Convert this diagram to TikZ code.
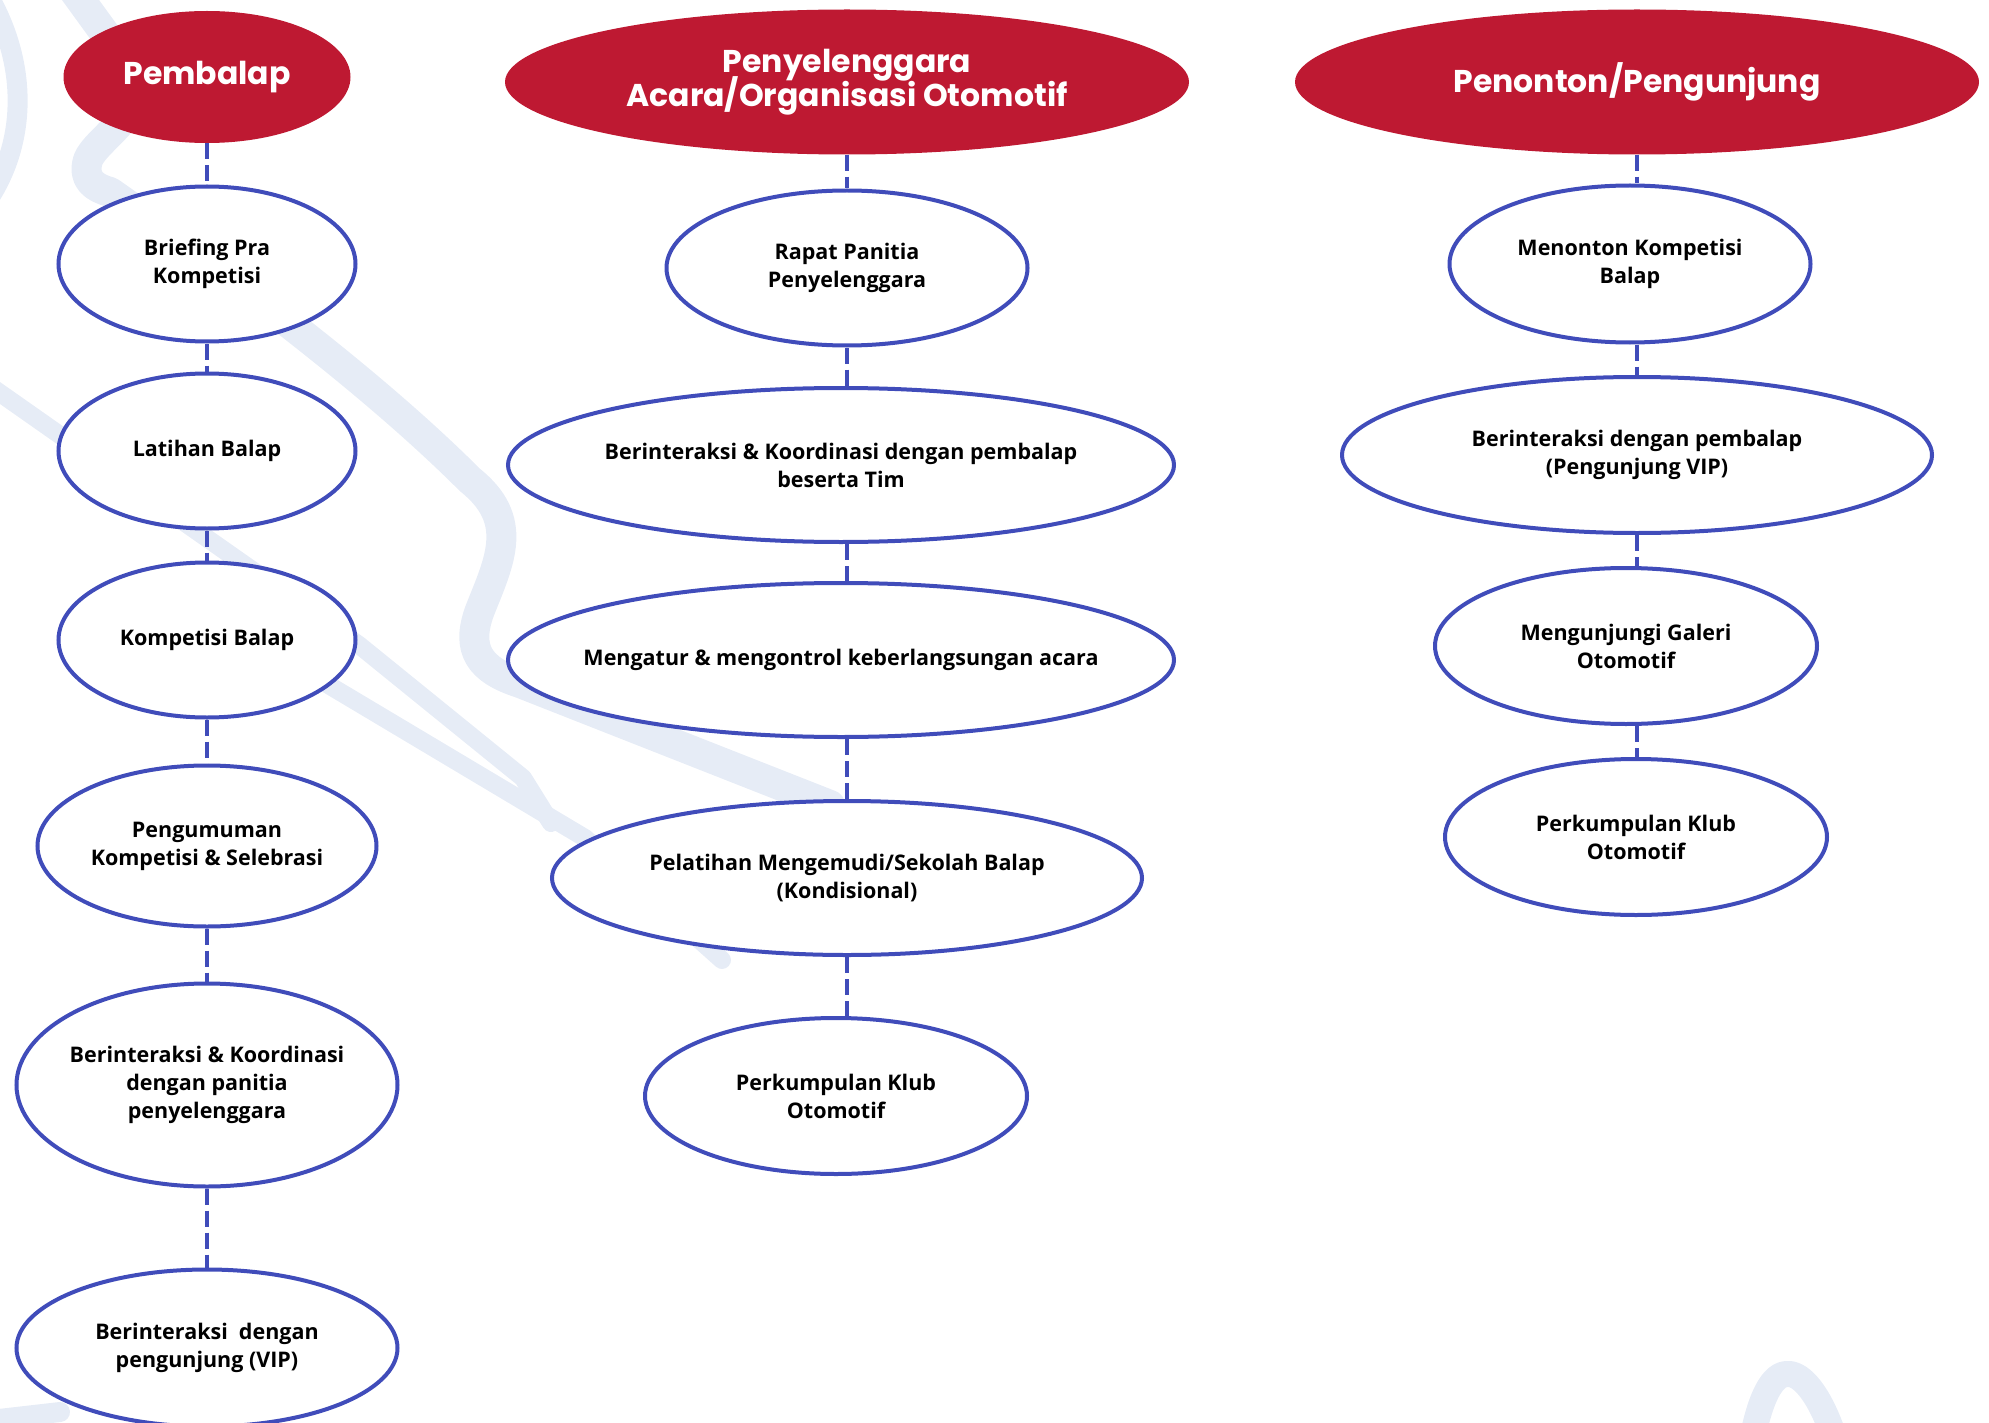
\documentclass[tikz,border=0pt]{standalone}
\usepackage{fontspec}
\setmainfont{Open Sans}
\newfontfamily\judulfont{Poppins}
\usetikzlibrary{shapes.geometric}
\definecolor{merah}{RGB}{190,25,50}
\definecolor{biru}{RGB}{64,76,186}
\definecolor{jejak}{RGB}{230,236,246}
\begin{document}
\begin{tikzpicture}[x=1pt, y=-1pt,
    judul/.style={ellipse, fill=merah, text=white, inner sep=0pt, align=center,
      font=\judulfont\bfseries\fontsize{31.5}{34}\selectfont},
    aksi/.style={ellipse, draw=biru, line width=4pt, fill=white, inner sep=0pt},
    teks/.style={font=\bfseries\fontsize{21.5}{28}\selectfont, align=center, text=black},
    garis/.style={draw=biru, line width=3.5pt, dash pattern=on 16pt off 6pt},
    jalur/.style={draw=jejak, line width=#1, line cap=round, line join=round},
    jalur/.default=30pt]
  \useasboundingbox (0,0) rectangle (1989,1423);
  % lintasan di latar
  \draw[jalur] (66,-20) -- (135,75) .. controls (150,110) and (95,140) .. (88,160)
    .. controls (82,180) and (95,188) .. (110,192)
    .. controls (250,290) and (380,390) .. (470,480)
    .. controls (520,520) and (500,560) .. (480,610)
    .. controls (465,650) and (480,670) .. (520,683) -- (830,805);
  \draw[jalur=18pt] (-10,386) -- (359,645) -- (523,778) -- (551,823);
  \draw[jalur=18pt] (300,668) -- (585,838) -- (722,960);
  \draw[jalur=20pt] (-15,-10) .. controls (28,60) and (28,140) .. (-12,200);
  \draw[jalur=20pt] (-10,1420) -- (60,1412);
  \draw[jalur=26pt] (1752,1440) .. controls (1762,1390) and (1775,1372) .. (1790,1374)
    .. controls (1805,1376) and (1822,1400) .. (1835,1440);

  \coordinate (k1) at (207,0);
  \coordinate (k2) at (847,0);
  \coordinate (k3) at (1637,0);

  \node[judul, minimum width=287, minimum height=132] (h1) at (207,77) {Pembalap};
  \node[aksi, minimum width=297, minimum height=155,
    label={[teks]center:Briefing Pra\\Kompetisi}] (p1) at (207,264) {};
  \node[aksi, minimum width=297, minimum height=155,
    label={[teks]center:Latihan Balap}] (p2) at (207,451) {};
  \node[aksi, minimum width=297, minimum height=155,
    label={[teks]center:Kompetisi Balap}] (p3) at (207,640) {};
  \node[aksi, minimum width=339, minimum height=161,
    label={[teks]center:Pengumuman\\Kompetisi \& Selebrasi}] (p4) at (207,846) {};
  \node[aksi, minimum width=381, minimum height=203,
    label={[teks]center:Berinteraksi \& Koordinasi\\dengan panitia\\penyelenggara}] (p5) at (207,1085) {};
  \node[aksi, minimum width=381, minimum height=157,
    label={[teks]center:Berinteraksi\ \ dengan\\pengunjung (VIP)}] (p6) at (207,1348) {};

  \node[judul, minimum width=684, minimum height=145] (h2) at (847,82)
    {Penyelenggara\\[-5pt]Acara/Organisasi Otomotif};
  \node[aksi, minimum width=361, minimum height=155,
    label={[teks]center:Rapat Panitia\\Penyelenggara}] (o1) at (847,268) {};
  \node[aksi, minimum width=666, minimum height=154,
    label={[teks]center:Berinteraksi \& Koordinasi dengan pembalap\\beserta Tim}] (o2) at (841,465) {};
  \node[aksi, minimum width=666, minimum height=154,
    label={[teks]center:Mengatur \& mengontrol keberlangsungan acara}] (o3) at (841,660) {};
  \node[aksi, minimum width=590, minimum height=154,
    label={[teks]center:Pelatihan Mengemudi/Sekolah Balap\\(Kondisional)}] (o4) at (847,878) {};
  \node[aksi, minimum width=382, minimum height=156,
    label={[teks]center:Perkumpulan Klub\\Otomotif}] (o5) at (836,1096) {};

  \node[judul, minimum width=684, minimum height=145] (h3) at (1637,82) {Penonton/Pengunjung};
  \node[aksi, minimum width=361, minimum height=157,
    label={[teks]center:Menonton Kompetisi\\Balap}] (q1) at (1630,264) {};
  \node[aksi, minimum width=590, minimum height=156,
    label={[teks]center:Berinteraksi dengan pembalap\\(Pengunjung VIP)}] (q2) at (1637,455) {};
  \node[aksi, minimum width=382, minimum height=156,
    label={[teks]center:Mengunjungi Galeri\\Otomotif}] (q3) at (1626,646) {};
  \node[aksi, minimum width=382, minimum height=156,
    label={[teks]center:Perkumpulan Klub\\Otomotif}] (q4) at (1636,837) {};

  \foreach \a/\b in {h1/p1, p1/p2, p2/p3, p3/p4, p4/p5, p5/p6}
    \draw[garis] (k1 |- \a.south) -- (k1 |- \b.north);
  \foreach \a/\b in {h2/o1, o1/o2, o2/o3, o3/o4, o4/o5}
    \draw[garis] (k2 |- \a.south) -- (k2 |- \b.north);
  \foreach \a/\b in {h3/q1, q1/q2, q2/q3, q3/q4}
    \draw[garis] (k3 |- \a.south) -- (k3 |- \b.north);
\end{tikzpicture}
\end{document}
